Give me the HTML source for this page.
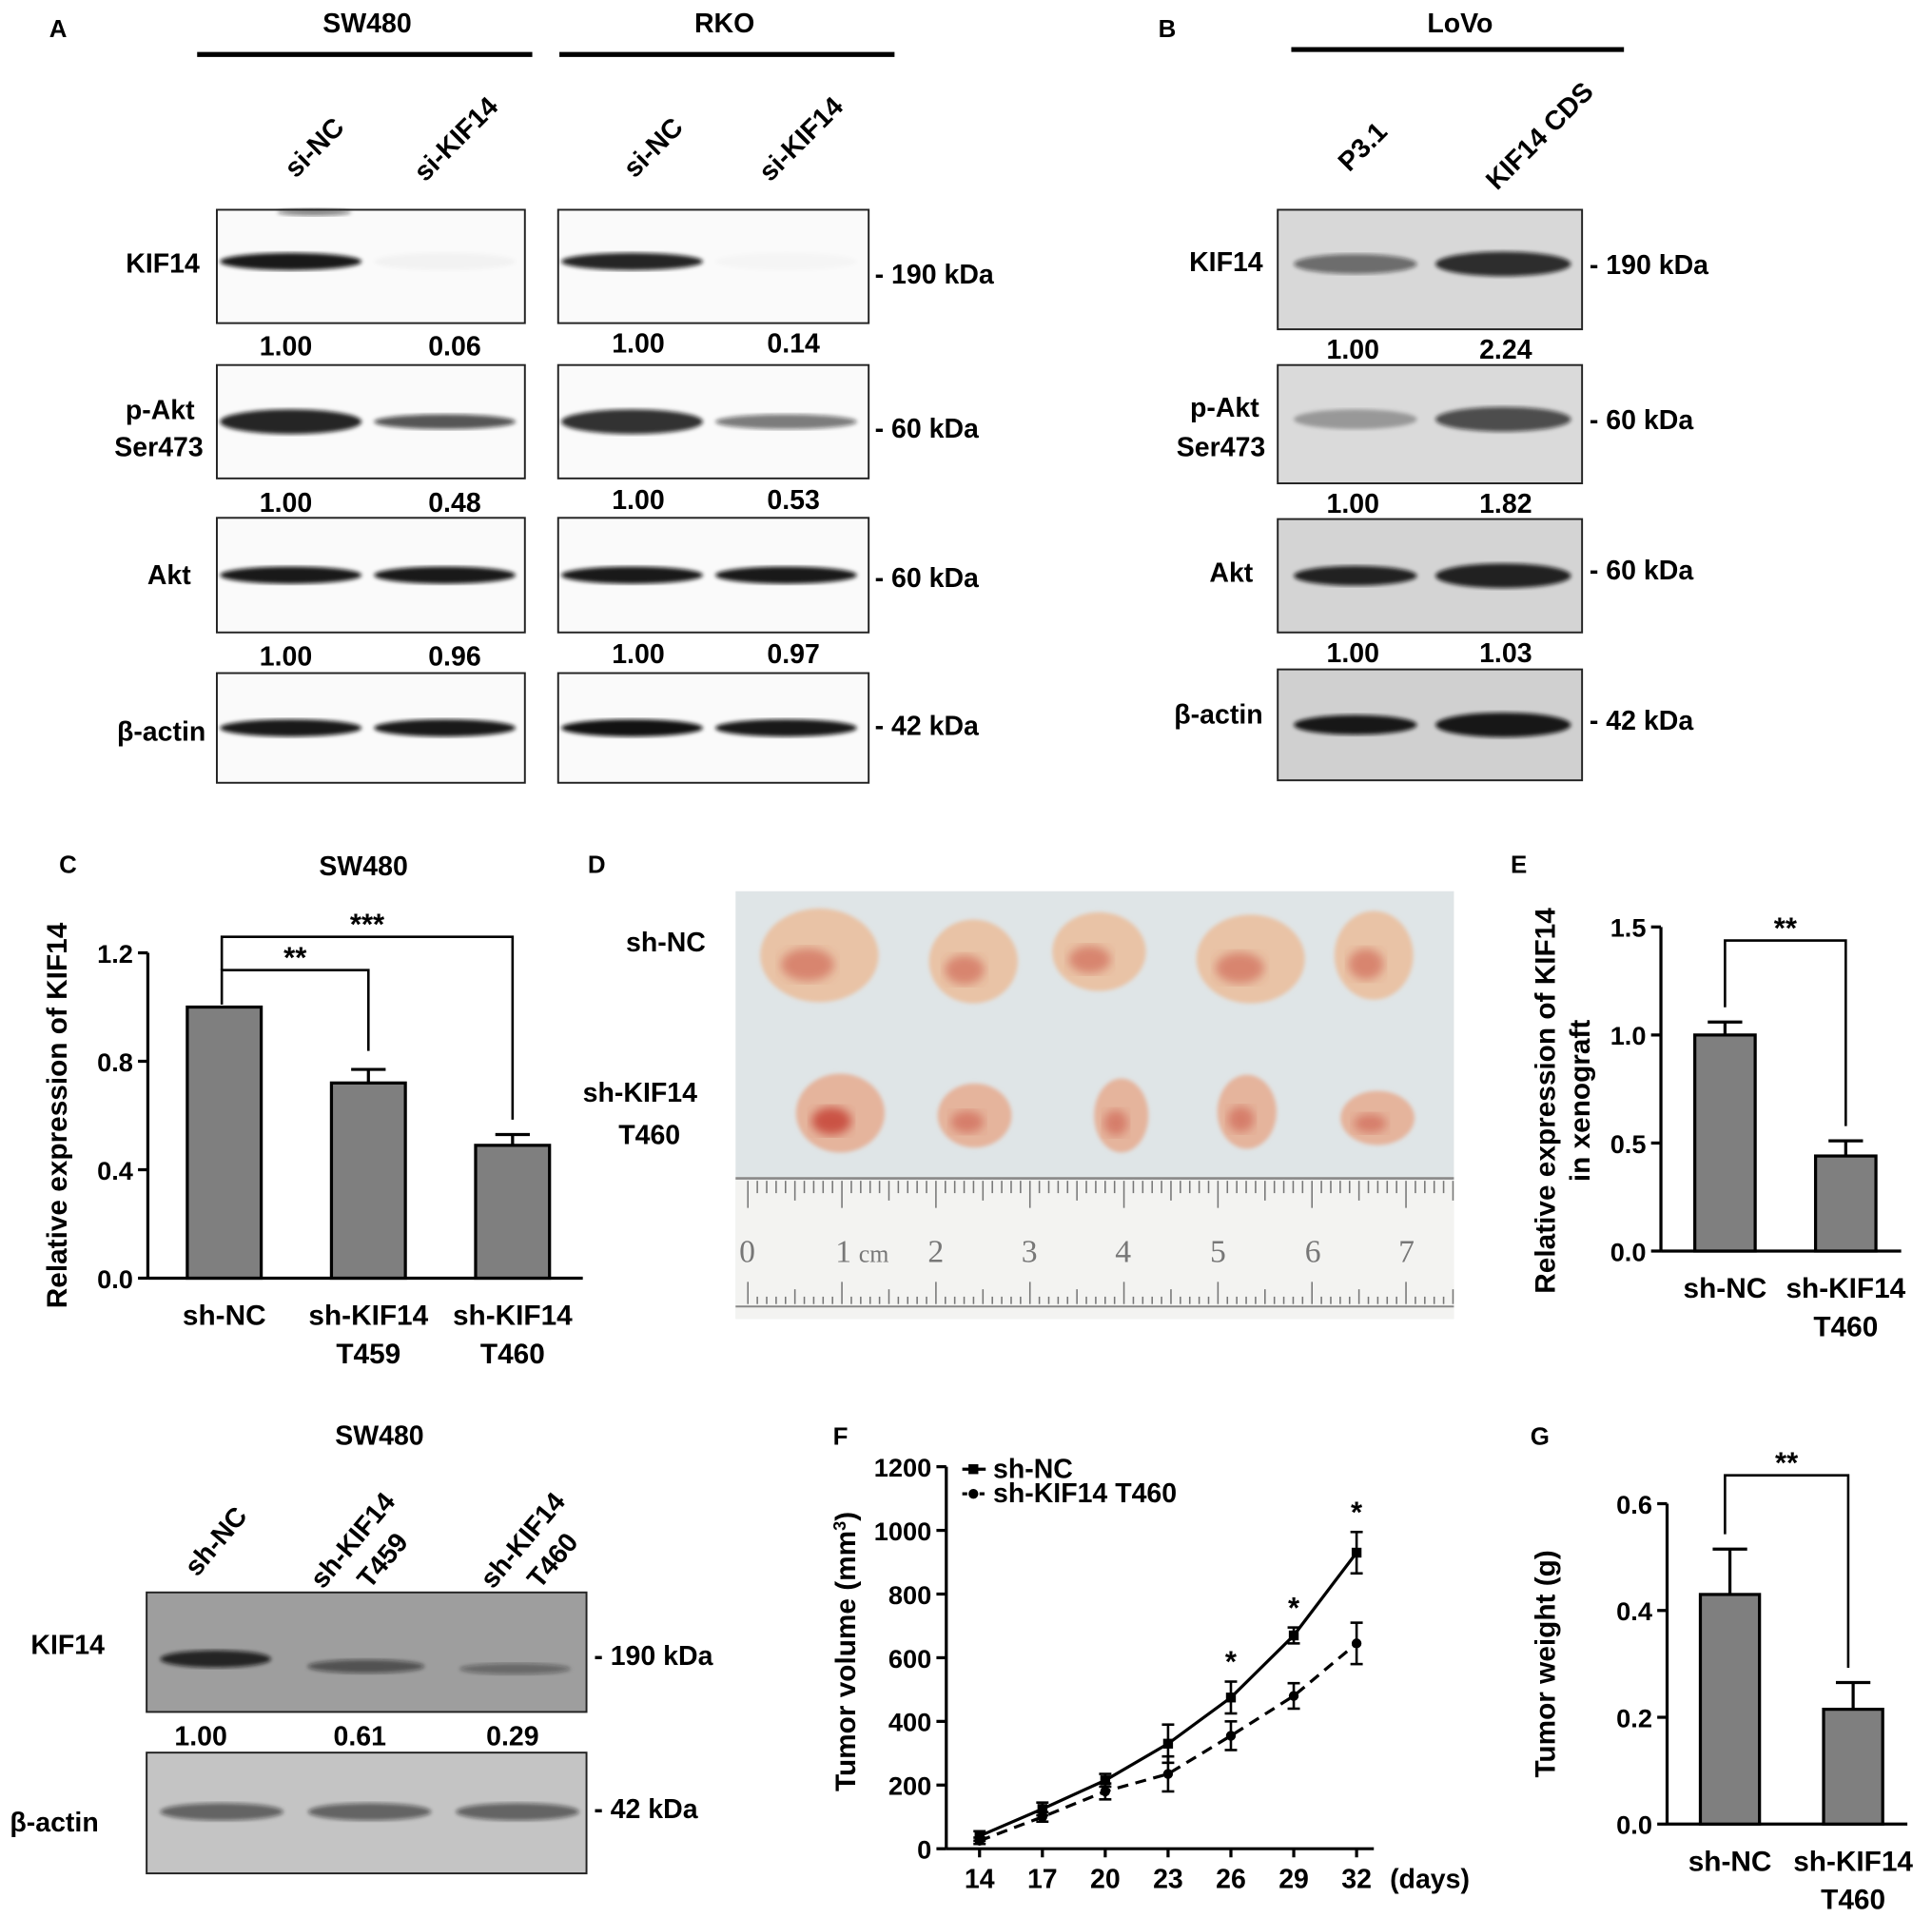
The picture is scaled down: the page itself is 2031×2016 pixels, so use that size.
<!DOCTYPE html>
<html><head><meta charset="utf-8"><style>
html,body{margin:0;padding:0;background:#fff;}
svg{display:block;font-family:"Liberation Sans",Arial,sans-serif;font-weight:bold;}
</style></head><body>
<svg id="fig" width="2031" height="2016" viewBox="0 0 1568 1556" xmlns="http://www.w3.org/2000/svg">
<defs>
<filter id="blur2"><feGaussianBlur stdDeviation="1.6"/></filter>
<filter id="blur4"><feGaussianBlur stdDeviation="4"/></filter>
</defs>
<g id="panelA" font-size="22">
<text x="40" y="30" font-size="20">A</text>
<text x="298" y="26" text-anchor="middle">SW480</text>
<line x1="160" y1="44" x2="432" y2="44" stroke="#000" stroke-width="4"/>
<text x="588" y="26" text-anchor="middle">RKO</text>
<line x1="454" y1="44" x2="726" y2="44" stroke="#000" stroke-width="4"/>
<text transform="translate(240,145) rotate(-45)">si-NC</text>
<text transform="translate(345,148) rotate(-45)">si-KIF14</text>
<text transform="translate(515,145) rotate(-45)">si-NC</text>
<text transform="translate(625,148) rotate(-45)">si-KIF14</text>
</g>
<g id="panelB" font-size="22">
<text x="940" y="30" font-size="20">B</text>
<text x="1185" y="26" text-anchor="middle">LoVo</text>
<line x1="1048" y1="40" x2="1318" y2="40" stroke="#000" stroke-width="4"/>
<text transform="translate(1095,140) rotate(-45)">P3.1</text>
<text transform="translate(1215,155) rotate(-45)">KIF14 CDS</text>
</g>
<g id="blots"></g>
<g id="panelD" font-size="22">
<text x="477" y="708" font-size="20">D</text>
<rect x="597" y="723" width="583" height="347" fill="#dfe5e7"/>
<rect x="597" y="955" width="583" height="115" fill="#f3f3f1"/>
<line x1="597" y1="956" x2="1180" y2="956" stroke="#888" stroke-width="2"/>
<line x1="597" y1="1060" x2="1180" y2="1060" stroke="#888" stroke-width="1.5"/>
<g id="ruler"></g>
<g font-family="Liberation Serif,serif" font-size="26" fill="#777" font-weight="normal">
<text x="600" y="1024">0</text><text x="678" y="1024">1</text><text x="697" y="1024" font-size="20">cm</text>
<text x="753" y="1024">2</text><text x="829" y="1024">3</text><text x="905" y="1024">4</text>
<text x="982" y="1024">5</text><text x="1059" y="1024">6</text><text x="1135" y="1024">7</text></g>
<text x="508" y="772">sh-NC</text>
<text x="473" y="894">sh-KIF14</text>
<text x="502" y="928">T460</text>
<g id="tumors"></g>
</g>
<g id="bottomBlot" font-size="22">
<text x="308" y="1172" text-anchor="middle">SW480</text>
<text transform="translate(160,1280) rotate(-50)">sh-NC</text>
<text transform="translate(262,1290) rotate(-50)">sh-KIF14</text>
<text transform="translate(300,1290) rotate(-50)">T459</text>
<text transform="translate(400,1290) rotate(-50)">sh-KIF14</text>
<text transform="translate(438,1290) rotate(-50)">T460</text>
</g>
<g id="chartC"></g>
<g id="chartE"></g>
<g id="chartF"></g>
<g id="chartG"></g>
</svg>
<script>
// ---- Panel C data
const cCats=["sh-NC","sh-KIF14 T459","sh-KIF14 T460"];
const cVals=[1.0,0.72,0.49];
const cErr=[0,0.05,0.04];
const cTicks=[0.0,0.4,0.8,1.2];
// ---- Panel E data
const eCats=["sh-NC","sh-KIF14 T460"];
const eVals=[1.0,0.44];
const eErr=[0.06,0.07];
const eTicks=[0.0,0.5,1.0,1.5];
// ---- Panel F data
const fDays=[14,17,20,23,26,29,32];
const fNC=[40,125,215,330,475,670,930];
const fNCErr=[15,20,20,60,50,25,65];
const fT460=[25,100,180,235,355,480,645];
const fT460Err=[10,15,25,55,45,40,65];
const fStars=[26,29,32];
const fTicks=[0,200,400,600,800,1000,1200];
// ---- Panel G data
const gCats=["sh-NC","sh-KIF14 T460"];
const gVals=[0.43,0.215];
const gErr=[0.085,0.05];
const gTicks=[0.0,0.2,0.4,0.6];
// ---- Blot quantification
const blotA_SW=[["1.00","0.06"],["1.00","0.48"],["1.00","0.96"]];
const blotA_RKO=[["1.00","0.14"],["1.00","0.53"],["1.00","0.97"]];
const blotB=[["1.00","2.24"],["1.00","1.82"],["1.00","1.03"]];
const blotSh=["1.00","0.61","0.29"];

const NS="http://www.w3.org/2000/svg";
function mk(parent,tag,attrs,text){const e=document.createElementNS(NS,tag);for(const k in attrs)e.setAttribute(k,attrs[k]);if(text!==undefined)e.textContent=text;parent.appendChild(e);return e;}

// ---------- blots
const blots=document.getElementById('blots');
function band(g,cx,cy,w,h,op){const e=mk(g,'ellipse',{cx:cx,cy:cy,rx:w/2,ry:h/2,fill:'#111','fill-opacity':op,filter:'url(#blur2)'});

}
function box(x,y,w,h,bg){const r=mk(blots,'rect',{x:x,y:y,width:w,height:h,fill:bg||'#fafafa',stroke:'#222','stroke-width':1.5});

return r;}
function txt(x,y,s,anchor,size){const t=mk(blots,'text',{x:x,y:y,'text-anchor':anchor||'start','font-size':size||22},s);

return t;}
// Panel A rows
const rowsA=[[170,262],[296,388],[420,513],[546,635]];
const colsA=[[176,426],[453,705]];
const bandOps=[[[0.95,0.03],[0.9,0.02]],[[0.9,0.7],[0.85,0.55]],[[0.95,0.95],[0.95,0.95]],[[0.95,0.95],[0.98,0.95]]];
rowsA.forEach((r,i)=>{colsA.forEach((c,j)=>{box(c[0],r[0],c[1]-c[0],r[1]-r[0]);
 const cy=i===0?(r[0]+42):(r[0]+r[1])/2;
 const xs=[c[0]+60,c[0]+185];
 band(blots,xs[0],cy,115,i===1?20:14,bandOps[i][j][0]);
 band(blots,xs[1],cy,115,i===1?12:14,bandOps[i][j][1]);});});
band(blots,255,172,60,6,0.5);
txt(162,221,"KIF14","end");txt(158,340,"p-Akt","end");txt(165,370,"Ser473","end");
txt(155,474,"Akt","end");txt(167,601,"β-actin","end");
const kdA=[[222,"190 kDa"],[347,"60 kDa"],[468,"60 kDa"],[588,"42 kDa"]];
kdA.forEach(k=>txt(710,k[0]+8,"- "+k[1]));
[288,415,540].forEach((y,i)=>{txt(232,y,blotA_SW[i][0],"middle");txt(369,y,blotA_SW[i][1],"middle");
 txt(518,y-2,blotA_RKO[i][0],"middle");txt(644,y-2,blotA_RKO[i][1],"middle");});
// Panel B
const rowsB=[[170,267],[296,392],[421,513],[543,633]];
const bOps=[[0.55,0.85],[0.3,0.7],[0.9,0.9],[0.95,0.95]];
const bgB=['#d8d8d8','#dadada','#d4d4d4','#d0d0d0'];
rowsB.forEach((r,i)=>{box(1037,r[0],247,r[1]-r[0],bgB[i]);const cy=i===0?214:(i===1?340:(r[0]+r[1])/2);
 band(blots,1100,cy,100,16,bOps[i][0]);band(blots,1220,cy,110,20,bOps[i][1]);});
txt(1025,220,"KIF14","end");txt(1022,338,"p-Akt","end");txt(1027,370,"Ser473","end");
txt(1017,472,"Akt","end");txt(1025,587,"β-actin","end");
[[214,"190 kDa"],[340,"60 kDa"],[462,"60 kDa"],[584,"42 kDa"]].forEach(k=>txt(1290,k[0]+8,"- "+k[1]));
[291,416,537].forEach((y,i)=>{txt(1098,y,blotB[i][0],"middle");txt(1222,y,blotB[i][1],"middle");});
// bottom blot
box(119,1292,357,97,'#9e9e9e');box(119,1422,357,98,'#c4c4c4');
band(blots,175,1346,90,14,0.85);band(blots,297,1352,95,11,0.55);band(blots,418,1354,90,9,0.4);
[180,300,420].forEach(x=>band(blots,x,1470,100,14,0.55));
txt(25,1342,"KIF14");txt(8,1486,"β-actin");
txt(482,1351,"- 190 kDa");txt(482,1475,"- 42 kDa");
blotSh.forEach((s,i)=>txt([163,292,416][i],1416,s,"middle"));

// ---------- ruler ticks
const ruler=document.getElementById('ruler');
for(let i=0;i<76;i++){const x=607+i*7.63;const l=i%10===0?22:(i%5===0?16:10);
 const t=mk(ruler,'line',{x1:x,y1:958,x2:x,y2:958+l,stroke:'#777','stroke-width':1.2});
 
 
 mk(ruler,'line',{x1:x,y1:1058,x2:x,y2:1058-l+4,stroke:'#777','stroke-width':1.2});}
// tumors
const tum=document.getElementById('tumors');
const tumorPos=[[665,775,48,38],[790,780,36,34],[892,772,38,32],[1015,778,44,36],[1115,775,32,36],
 [682,903,36,32],[791,905,30,26],[910,905,22,30],[1012,902,24,30],[1118,907,30,22]];
tumorPos.forEach((p,i)=>{const t=mk(tum,'ellipse',{cx:p[0],cy:p[1],rx:p[2],ry:p[3],fill:i<5?'#e9c3a6':'#e5b49c',filter:'url(#blur2)'});
 
 
 mk(tum,'ellipse',{cx:p[0]-p[2]*0.2,cy:p[1]+p[3]*0.2,rx:p[2]*0.45,ry:p[3]*0.35,fill:'#c8483a','fill-opacity':i===5?0.9:0.5,filter:'url(#blur4)'});});

// ---------- generic helpers for charts
function axisY(g,x,y0,y1,ticks,scale,fmt,size){
 const a=mk(g,'line',{x1:x,y1:y0,x2:x,y2:y1,stroke:'#000','stroke-width':2.5});
 
 
 ticks.forEach(t=>{const y=scale(t);mk(g,'line',{x1:x-8,y1:y,x2:x,y2:y,stroke:'#000','stroke-width':2.5});
  const l=mk(g,'text',{x:x-12,y:y+8,'text-anchor':'end','font-size':size||21},fmt(t));
  
  });}
function barChart(g,cfg){
 const sc=v=>cfg.y0-(v-cfg.min)/(cfg.max-cfg.min)*(cfg.y0-cfg.y1);
 axisY(g,cfg.ax,cfg.y0,cfg.y1,cfg.ticks,sc,cfg.fmt);
 const xa=mk(g,'line',{x1:cfg.ax,y1:cfg.y0,x2:cfg.axEnd,y2:cfg.y0,stroke:'#000','stroke-width':2.5});
 
 
 cfg.vals.forEach((v,i)=>{const cx=cfg.x0+i*cfg.step;const y=sc(v);
  const b=mk(g,'rect',{x:cx-cfg.bw/2,y:y,width:cfg.bw,height:cfg.y0-y,fill:'#7f7f7f',stroke:'#000','stroke-width':2.5});
  
  
  if(cfg.err[i]>0){const ye=sc(v+cfg.err[i]);
   mk(g,'line',{x1:cx,y1:y,x2:cx,y2:ye,stroke:'#000','stroke-width':2.5});
   mk(g,'line',{x1:cx-14,y1:ye,x2:cx+14,y2:ye,stroke:'#000','stroke-width':2.5});}
  cfg.labels[i].forEach((s,k)=>{const t=mk(g,'text',{x:cx+(cfg.lx||0),y:cfg.y0+38+k*31,'text-anchor':'middle','font-size':23},s);
   
   });});
 return sc;}

// ---------- Panel C
const gC=document.getElementById('chartC');
mk(gC,'text',{x:48,y:708,'font-size':20},'C');
mk(gC,'text',{x:295,y:710,'text-anchor':'middle','font-size':22},'SW480');
const cX0=182,cStep=117;
const scC=barChart(gC,{ax:120,axEnd:473,y0:1037,y1:773,min:0,max:1.2,ticks:cTicks,fmt:t=>t.toFixed(1),
 vals:cVals,err:cErr,x0:cX0,step:cStep,bw:60,labels:[["sh-NC"],["sh-KIF14","T459"],["sh-KIF14","T460"]],lx:0});
const cT=mk(gC,'text',{transform:'translate(54,905) rotate(-90)','text-anchor':'middle','font-size':23},'Relative  expression of KIF14');


function bracket(g,x1,x2,y,yA,yB,lab){mk(g,'path',{d:`M${x1} ${yA} V${y} H${x2} V${yB}`,fill:'none',stroke:'#000','stroke-width':2});
 const t=mk(g,'text',{x:(x1+x2)/2,y:y-2,'text-anchor':'middle','font-size':24},lab);
 
 }
bracket(gC,cX0-2,cX0+cStep,787,scC(cVals[0])-2,scC(cVals[1]+cErr[1])-15,'**');
bracket(gC,cX0-2,cX0+2*cStep,760,787,scC(cVals[2]+cErr[2])-12,'***');

// ---------- Panel E
const gE=document.getElementById('chartE');
mk(gE,'text',{x:1226,y:708,'font-size':20},'E');
const scE=barChart(gE,{ax:1348,axEnd:1543,y0:1015,y1:752,min:0,max:1.5,ticks:eTicks,fmt:t=>t.toFixed(1),
 vals:eVals,err:eErr,x0:1400,step:98,bw:49,labels:[["sh-NC"],["sh-KIF14","T460"]],lx:0});
mk(gE,'text',{transform:'translate(1262,893) rotate(-90)','text-anchor':'middle','font-size':23},'Relative expression of KIF14');
mk(gE,'text',{transform:'translate(1290,893) rotate(-90)','text-anchor':'middle','font-size':23},'in xenograft');
bracket(gE,1400,1498,763,scE(eVals[0]+eErr[0])-12,scE(eVals[1]+eErr[1])-12,'**');

// ---------- Panel G
const gG=document.getElementById('chartG');
mk(gG,'text',{x:1242,y:1172,'font-size':20},'G');
const scG=barChart(gG,{ax:1353,axEnd:1548,y0:1480,y1:1220,min:0,max:0.6,ticks:gTicks,fmt:t=>t.toFixed(1),
 vals:gVals,err:gErr,x0:1404,step:100,bw:48,labels:[["sh-NC"],["sh-KIF14","T460"]],lx:0});
mk(gG,'text',{transform:'translate(1262,1350) rotate(-90)','text-anchor':'middle','font-size':23},'Tumor weight (g)');
bracket(gG,1400,1500,1197,scG(gVals[0]+gErr[0])-12,scG(gVals[1]+gErr[1])-12,'**');

// ---------- Panel F
const gF=document.getElementById('chartF');
mk(gF,'text',{x:676,y:1172,'font-size':20},'F');
const fy0=1500,fy1=1190,fxA=768;
const syF=v=>fy0-v/1200*(fy0-fy1);
const sxF=d=>795+(d-14)/3*51;
axisY(gF,fxA,fy0,fy1,fTicks,syF,t=>String(t),21);
const fxa=mk(gF,'line',{x1:fxA,y1:fy0,x2:1115,y2:fy0,stroke:'#000','stroke-width':2.5});


fDays.forEach(d=>{mk(gF,'line',{x1:sxF(d),y1:fy0,x2:sxF(d),y2:fy0+7,stroke:'#000','stroke-width':2.5});
 const t=mk(gF,'text',{x:sxF(d),y:fy0+32,'text-anchor':'middle','font-size':22},String(d));
 
 });
mk(gF,'text',{x:1128,y:1532,'font-size':22},'(days)');
const fT=mk(gF,'text',{transform:'translate(694,1340) rotate(-90)','text-anchor':'middle','font-size':23});
fT.innerHTML='Tumor volume (mm<tspan baseline-shift="super" font-size="14">3</tspan>)';


function series(vals,errs,dash,name){
 const pts=vals.map((v,i)=>sxF(fDays[i])+','+syF(v)).join(' ');
 const l=mk(gF,'polyline',{points:pts,fill:'none',stroke:'#000','stroke-width':2.5,'stroke-dasharray':dash?'9,6':'none'});
 
 
 vals.forEach((v,i)=>{const x=sxF(fDays[i]);
  mk(gF,'line',{x1:x,y1:syF(v-errs[i]),x2:x,y2:syF(v+errs[i]),stroke:'#000','stroke-width':2});
  mk(gF,'line',{x1:x-5,y1:syF(v-errs[i]),x2:x+5,y2:syF(v-errs[i]),stroke:'#000','stroke-width':2});
  mk(gF,'line',{x1:x-5,y1:syF(v+errs[i]),x2:x+5,y2:syF(v+errs[i]),stroke:'#000','stroke-width':2});
  const p=mk(gF,dash?'circle':'rect',dash?{cx:x,cy:syF(v),r:4}:{x:x-4,y:syF(v)-4,width:8,height:8});
  
  });}
series(fNC,fNCErr,false,'line-sh-nc');
series(fT460,fT460Err,true,'line-sh-kif14-t460');
fStars.forEach(d=>{const i=fDays.indexOf(d);const s=mk(gF,'text',{x:sxF(d),y:syF(fNC[i]+fNCErr[i])-8,'text-anchor':'middle','font-size':24},'*');
 
 });
const lg1=mk(gF,'g',{});


mk(lg1,'line',{x1:781,y1:1192,x2:800,y2:1192,stroke:'#000','stroke-width':2.5});
mk(lg1,'rect',{x:786,y:1188,width:8,height:8});
mk(lg1,'text',{x:806,y:1199,'font-size':22},'sh-NC');
const lg2=mk(gF,'g',{});


mk(lg2,'line',{x1:781,y1:1212,x2:800,y2:1212,stroke:'#000','stroke-width':2.5,'stroke-dasharray':'4,3'});
mk(lg2,'circle',{cx:790,cy:1212,r:4});
mk(lg2,'text',{x:806,y:1219,'font-size':22},'sh-KIF14 T460');
</script>
</body></html>
